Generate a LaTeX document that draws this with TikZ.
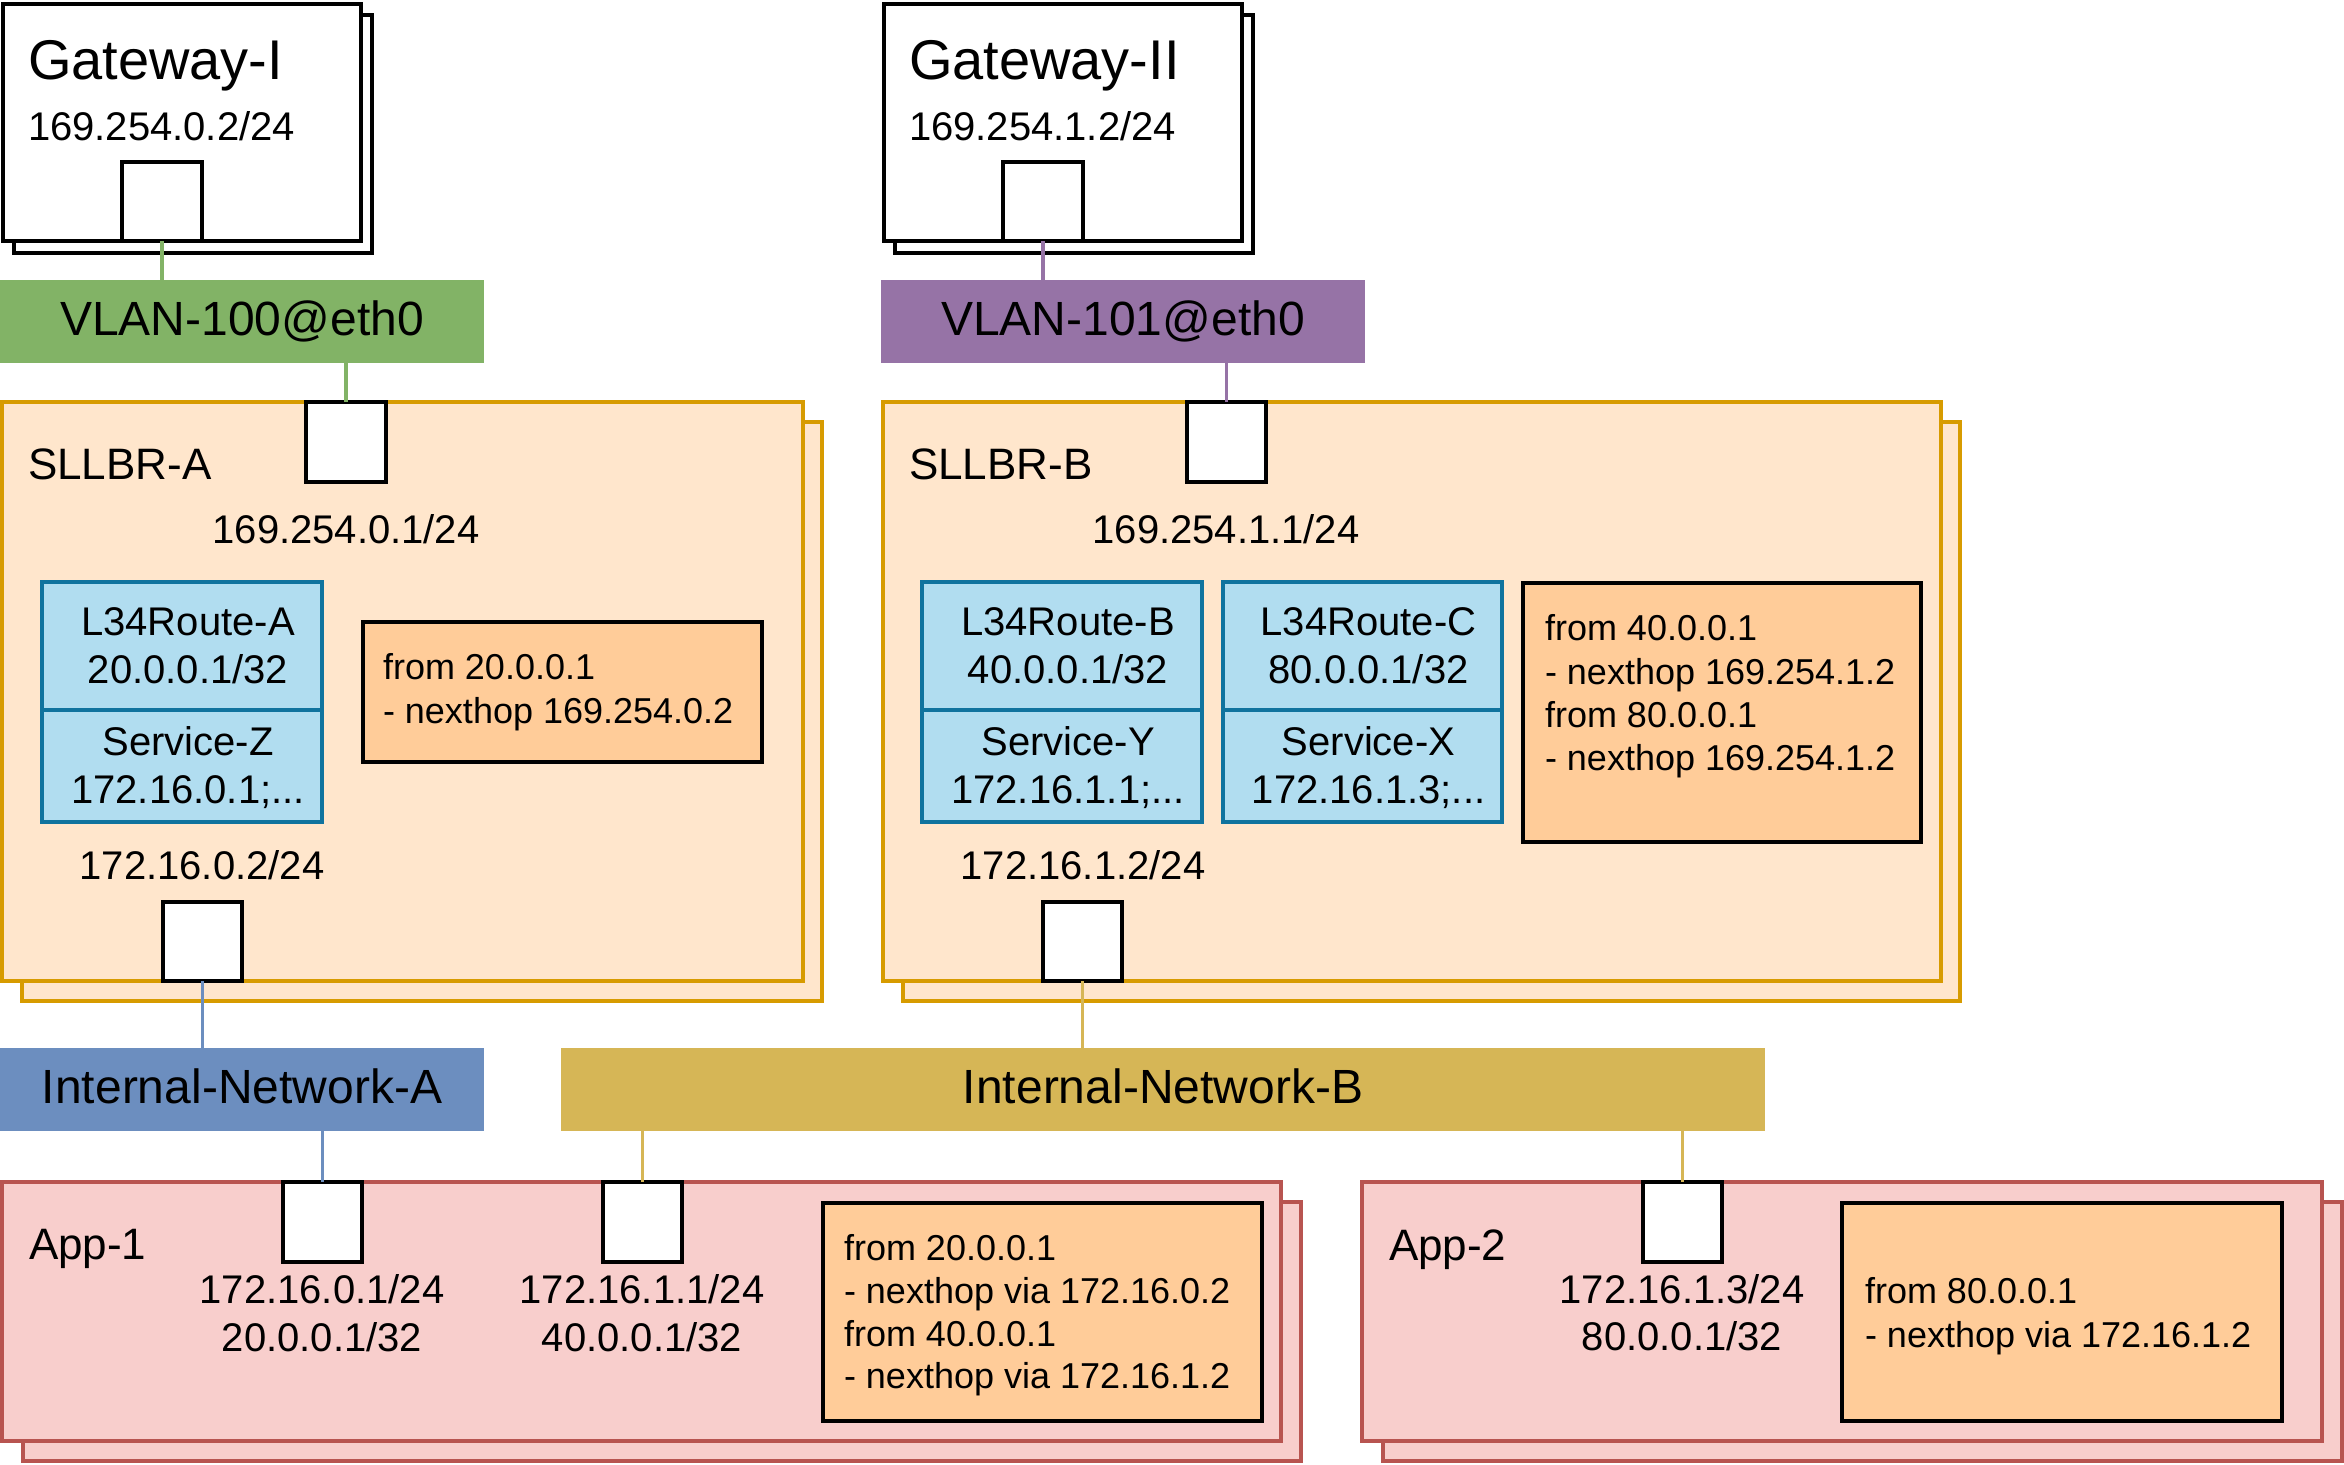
\documentclass[tikz,border=0pt]{standalone}
\usepackage{fontspec}
\setmainfont{Liberation Sans}
\definecolor{vgreen}{HTML}{82B366}
\definecolor{vpurple}{HTML}{9673A6}
\definecolor{nblue}{HTML}{6C8EBF}
\definecolor{nyellow}{HTML}{D6B656}
\definecolor{sfill}{HTML}{FFE6CC}
\definecolor{sline}{HTML}{D79B00}
\definecolor{lfill}{HTML}{B1DDF0}
\definecolor{lline}{HTML}{10739E}
\definecolor{rfill}{HTML}{FFCC99}
\definecolor{afill}{HTML}{F8CECC}
\definecolor{aline}{HTML}{B85450}
\tikzset{
  rb/.style={rectangle, inner sep=0pt, outer sep=0pt},
  gwbox/.style={rb, draw=black, fill=white, line width=4.5pt},
  portbox/.style={rb, draw=black, fill=white, line width=4pt},
  vlanA/.style={rb, fill=vgreen},
  vlanB/.style={rb, fill=vpurple},
  netA/.style={rb, fill=nblue},
  netB/.style={rb, fill=nyellow},
  sbox/.style={rb, draw=sline, fill=sfill, line width=4pt},
  lbox/.style={rb, draw=lline, fill=lfill, line width=4pt},
  routebox/.style={rb, draw=black, fill=rfill, line width=4pt},
  abox/.style={rb, draw=aline, fill=afill, line width=4pt},
  txt/.style={inner sep=0pt, outer sep=0pt},
  ft/.style={txt, font=\fontsize{56}{67}\selectfont},
  fn/.style={txt, font=\fontsize{48}{57}\selectfont},
  fh/.style={txt, font=\fontsize{44}{52}\selectfont},
  fi/.style={txt, font=\fontsize{40}{48}\selectfont},
  fr/.style={txt, font=\fontsize{36}{43}\selectfont},
  conn/.style={line width=3.2pt},
}
\newcommand\rbox[6]{\node[#1, anchor=north west, minimum width={#5-#3}, minimum height={#6-#4}] (#2) at (#3,#4) {};}
\begin{document}
\begin{tikzpicture}[x=1pt,y=-1pt]
\useasboundingbox (0,0) rectangle (2344,1464);
% Gateways
\rbox{gwbox}{gw1back}{14}{15}{372}{253}
\rbox{gwbox}{gw1}{3}{4}{361}{241}
\rbox{portbox}{gw1port}{122}{162}{202}{241}
\node[ft, anchor=base west] (gw1title) at (28,80) {Gateway-I};
\node[fi, anchor=base west] (gw1ip) at (28,140) {169.254.0.2/24};
\rbox{gwbox}{gw2back}{895}{15}{1253}{253}
\rbox{gwbox}{gw2}{884}{4}{1242}{241}
\rbox{portbox}{gw2port}{1003}{162}{1083}{241}
\node[ft, anchor=base west] (gw2title) at (909,80) {Gateway-II};
\node[fi, anchor=base west] (gw2ip) at (909,140) {169.254.1.2/24};
% VLANs
\rbox{vlanA}{vlan100}{0}{280}{484}{363}
\node[fn, anchor=base] (vlan100t) at (242,335) {VLAN-100@eth0};
\rbox{vlanB}{vlan101}{881}{280}{1365}{363}
\node[fn, anchor=base] (vlan101t) at (1123,335) {VLAN-101@eth0};
% SLLBR-A
\rbox{sbox}{saback}{22}{422}{822}{1001}
\rbox{sbox}{sa}{1.5}{402}{803}{981}
\rbox{portbox}{satop}{306}{402}{386}{482}
\rbox{portbox}{sabot}{163}{902}{242}{981}
\node[fh, anchor=base west] (satitle) at (28,479) {SLLBR-A};
\node[fi, anchor=base] (saip) at (346,543) {169.254.0.1/24};
\rbox{lbox}{l34a}{42}{582}{322}{710}
\rbox{lbox}{svcz}{42}{710}{322}{822}
\node[fi, anchor=base] (l34at1) at (188,635) {L34Route-A};
\node[fi, anchor=base] (l34at2) at (188,683) {20.0.0.1/32};
\node[fi, anchor=base] (svczt1) at (188,755) {Service-Z};
\node[fi, anchor=base] (svczt2) at (188,803) {172.16.0.1;...};
\rbox{routebox}{routea}{363}{622}{762}{762}
\node[fr, anchor=base west] (routeat1) at (383,679) {from 20.0.0.1};
\node[fr, anchor=base west] (routeat2) at (383,723) {- nexthop 169.254.0.2};
\node[fi, anchor=base] (sabotip) at (202,879) {172.16.0.2/24};
% SLLBR-B
\rbox{sbox}{sbback}{903}{422}{1960}{1001}
\rbox{sbox}{sb}{882.5}{402}{1941}{981}
\rbox{portbox}{sbtop}{1187}{402}{1266}{482}
\rbox{portbox}{sbbot}{1043}{902}{1122}{981}
\node[fh, anchor=base west] (sbtitle) at (909,479) {SLLBR-B};
\node[fi, anchor=base] (sbip) at (1226,543) {169.254.1.1/24};
\rbox{lbox}{l34b}{922}{582}{1202}{710}
\rbox{lbox}{svcy}{922}{710}{1202}{822}
\node[fi, anchor=base] (l34bt1) at (1068,635) {L34Route-B};
\node[fi, anchor=base] (l34bt2) at (1068,683) {40.0.0.1/32};
\node[fi, anchor=base] (svcyt1) at (1068,755) {Service-Y};
\node[fi, anchor=base] (svcyt2) at (1068,803) {172.16.1.1;...};
\rbox{lbox}{l34c}{1223}{582}{1502}{710}
\rbox{lbox}{svcx}{1223}{710}{1502}{822}
\node[fi, anchor=base] (l34ct1) at (1368.5,635) {L34Route-C};
\node[fi, anchor=base] (l34ct2) at (1368.5,683) {80.0.0.1/32};
\node[fi, anchor=base] (svcxt1) at (1368.5,755) {Service-X};
\node[fi, anchor=base] (svcxt2) at (1368.5,803) {172.16.1.3;...};
\rbox{routebox}{routeb}{1523}{583}{1921}{842}
\node[fr, anchor=base west] (routebt1) at (1545,640) {from 40.0.0.1};
\node[fr, anchor=base west] (routebt2) at (1545,684) {- nexthop 169.254.1.2};
\node[fr, anchor=base west] (routebt3) at (1545,727) {from 80.0.0.1};
\node[fr, anchor=base west] (routebt4) at (1545,770) {- nexthop 169.254.1.2};
\node[fi, anchor=base] (sbbotip) at (1083,879) {172.16.1.2/24};
% Internal networks
\rbox{netA}{ina}{0}{1048}{484}{1131}
\node[fn, anchor=base] (inat) at (242,1103) {Internal-Network-A};
\rbox{netB}{inb}{561}{1048}{1765}{1131}
\node[fn, anchor=base] (inbt) at (1163,1103) {Internal-Network-B};
% App-1
\rbox{abox}{app1back}{23}{1202}{1301}{1461}
\rbox{abox}{app1}{1.5}{1182}{1281}{1441}
\rbox{portbox}{app1p1}{283}{1182}{362}{1262}
\rbox{portbox}{app1p2}{603}{1182}{682}{1262}
\node[fh, anchor=base west] (app1t) at (29,1259) {App-1};
\node[fi, anchor=base] (app1ip1) at (322,1303) {172.16.0.1/24};
\node[fi, anchor=base] (app1ip1b) at (322,1351) {20.0.0.1/32};
\node[fi, anchor=base] (app1ip2) at (642,1303) {172.16.1.1/24};
\node[fi, anchor=base] (app1ip2b) at (642,1351) {40.0.0.1/32};
\rbox{routebox}{app1route}{823}{1203}{1262}{1421}
\node[fr, anchor=base west] (app1rt1) at (844,1260) {from 20.0.0.1};
\node[fr, anchor=base west] (app1rt2) at (844,1303) {- nexthop via 172.16.0.2};
\node[fr, anchor=base west] (app1rt3) at (844,1346) {from 40.0.0.1};
\node[fr, anchor=base west] (app1rt4) at (844,1388) {- nexthop via 172.16.1.2};
% App-2
\rbox{abox}{app2back}{1383}{1202}{2342}{1461}
\rbox{abox}{app2}{1362}{1182}{2322}{1441}
\rbox{portbox}{app2p}{1643}{1182}{1722}{1262}
\node[fh, anchor=base west] (app2t) at (1389,1260) {App-2};
\node[fi, anchor=base] (app2ip) at (1682,1303) {172.16.1.3/24};
\node[fi, anchor=base] (app2ipb) at (1682,1350) {80.0.0.1/32};
\rbox{routebox}{app2route}{1842}{1203}{2282}{1421}
\node[fr, anchor=base west] (app2rt1) at (1865,1303) {from 80.0.0.1};
\node[fr, anchor=base west] (app2rt2) at (1865,1347) {- nexthop via 172.16.1.2};
% Connectors
\draw[conn, vgreen] (gw1port.south) -- (gw1port.south |- vlan100.north);
\draw[conn, vgreen] (satop.north) -- (satop.north |- vlan100.south);
\draw[conn, vpurple] (gw2port.south) -- (gw2port.south |- vlan101.north);
\draw[conn, vpurple] (sbtop.north) -- (sbtop.north |- vlan101.south);
\draw[conn, nblue] (sabot.south) -- (sabot.south |- ina.north);
\draw[conn, nblue] (app1p1.north) -- (app1p1.north |- ina.south);
\draw[conn, nyellow] (sbbot.south) -- (sbbot.south |- inb.north);
\draw[conn, nyellow] (app1p2.north) -- (app1p2.north |- inb.south);
\draw[conn, nyellow] (app2p.north) -- (app2p.north |- inb.south);
\end{tikzpicture}
\end{document}
